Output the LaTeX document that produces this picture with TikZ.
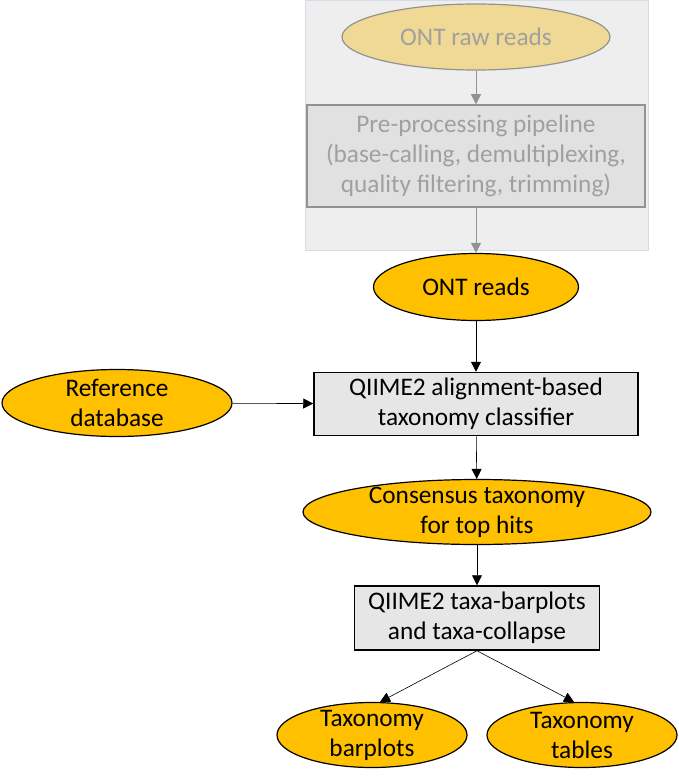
\documentclass[tikz,border=0pt]{standalone}
\usepackage{fontspec}
\setmainfont{Carlito}
\usetikzlibrary{shapes.geometric,arrows.meta}

\definecolor{gold}{HTML}{FFC000}
\definecolor{paleGold}{HTML}{EFD994}
\definecolor{fadeText}{HTML}{A0A0A0}
\definecolor{fadeEdge}{HTML}{929292}
\definecolor{boxGrey}{HTML}{E6E6E6}
\definecolor{prepGrey}{HTML}{E1E1E1}
\definecolor{bgGrey}{HTML}{EEEEEE}
\definecolor{bgEdge}{HTML}{D5DCE8}

\begin{document}
\begin{tikzpicture}[x=1pt, y=-1pt,
    font=\fontsize{25.3}{30}\selectfont,
    oval/.style={draw, ellipse, fill=gold, line width=1.2pt, inner sep=0pt},
    stage/.style={draw, rectangle, fill=boxGrey, line width=1.5pt, inner sep=0pt, align=center},
    faded/.style={draw=fadeEdge, text=fadeText},
    link/.style={-{Triangle[length=10pt,width=10pt]}, line width=0.6pt},
  ]
  \useasboundingbox (0,0) rectangle (678,781);
  \filldraw[fill=bgGrey, draw=bgEdge, line width=1pt] (305,1) rectangle (648,250);

  \node[oval, faded, fill=paleGold, minimum width=268pt, minimum height=66pt,
    label={[text=fadeText]center:ONT raw reads}] (raw) at (476,37) {};
  \node[stage, faded, fill=prepGrey, minimum width=338pt, minimum height=102pt] (prep) at (476,156)
    {Pre-processing pipeline\\(base-calling, demultiplexing,\\quality filtering, trimming)};
  \node[oval, minimum width=205pt, minimum height=67pt,
    label=center:ONT reads] (ontreads) at (476,287) {};
  \node[stage, minimum width=324pt, minimum height=63pt] (classifier) at (476,404)
    {QIIME2 alignment-based\\taxonomy classifier};
  \node[oval, minimum width=230pt, minimum height=67pt,
    label={[align=center]center:Reference\\database}] (refdb) at (117,403) {};
  \node[oval, minimum width=348pt, minimum height=65pt,
    label={[align=center]center:Consensus taxonomy\\for top hits}] (consensus) at (477,512) {};
  \node[stage, minimum width=245pt, minimum height=64pt] (barbox) at (477,618)
    {QIIME2 taxa-barplots\\and taxa-collapse};
  \node[oval, minimum width=190pt, minimum height=65pt,
    label={[align=center]center:Taxonomy\\barplots}] (taxbar) at (372,735) {};
  \node[oval, minimum width=190pt, minimum height=65pt,
    label={[align=center]center:Taxonomy\\tables}] (taxtab) at (582,735) {};

  % connectors
  \draw[link, fadeEdge] (raw) -- (prep);
  \draw[link, fadeEdge] (prep) -- (ontreads);
  \draw[link] (ontreads) -- (classifier);
  \draw[link] (refdb) -- (classifier);
  \draw[link] (classifier) -- (consensus);
  \draw[link] (consensus) -- (barbox);
  \draw[link] (barbox.south) -- ([xshift=8pt]taxbar.north);
  \draw[link] (barbox.south) -- ([xshift=-8pt]taxtab.north);
\end{tikzpicture}
\end{document}
